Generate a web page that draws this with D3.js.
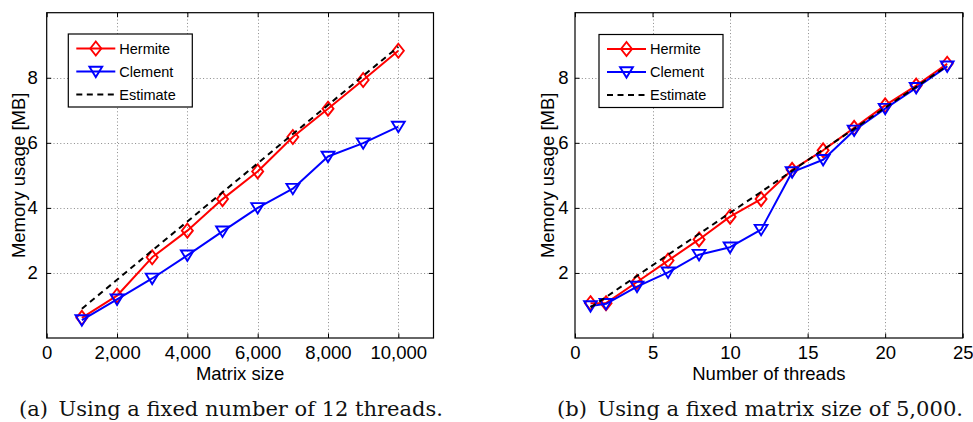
<!DOCTYPE html>
<html>
<head>
<meta charset="utf-8">
<script src="https://cdn.jsdelivr.net/npm/d3@7"></script>
<style>
  html, body { margin: 0; padding: 0; background: #fff; }
  svg { display: block; }
</style>
</head>
<body>
<svg id="chart" width="973" height="422"></svg>
<script>
// ---------- data ----------
const seriesNames = ["Hermite", "Clement", "Estimate"];

const matrixSizes = [1000, 2000, 3000, 4000, 5000, 6000, 7000, 8000, 9000, 10000];
const hermiteBySize = [0.62, 1.30, 2.48, 3.30, 4.27, 5.12, 6.18, 7.05, 7.93, 8.83];
const clementBySize = [0.55, 1.19, 1.83, 2.54, 3.28, 4.00, 4.59, 5.58, 5.99, 6.50];
const estimateBySize = [0.90, 1.79, 2.69, 3.58, 4.48, 5.37, 6.27, 7.16, 8.06, 8.95];

const threadCounts = [1, 2, 4, 6, 8, 10, 12, 14, 16, 18, 20, 22, 24];
const hermiteByThreads = [1.07, 1.07, 1.72, 2.38, 3.03, 3.73, 4.27, 5.17, 5.77, 6.46, 7.15, 7.76, 8.43];
const clementByThreads = [0.98, 1.05, 1.58, 2.02, 2.56, 2.79, 3.33, 5.10, 5.48, 6.38, 7.05, 7.69, 8.35];
const estimateByThreads = [0.94, 1.26, 1.91, 2.56, 3.20, 3.85, 4.49, 5.14, 5.79, 6.43, 7.08, 7.72, 8.37];

const yTicks = [2, 4, 6, 8];
const xTicksSize = [0, 2000, 4000, 6000, 8000, 10000];
const xTicksThreads = [0, 5, 10, 15, 20, 25];

const yLabel = "Memory usage [MB]";
const xLabelSize = "Matrix size";
const xLabelThreads = "Number of threads";
const captionSize = "(a)\u2002Using a fixed number of 12 threads.";
const captionThreads = "(b)\u2002Using a fixed matrix size of 5,000.";

// ---------- drawing ----------
const svg = d3.select("#chart");
svg.append("rect").attr("width", 973).attr("height", 422).attr("fill", "#fff");

const colors = { Hermite: "#ff0000", Clement: "#0000ff", Estimate: "#000000" };
const font = "'Liberation Sans', Arial, Helvetica, sans-serif";

const diamondPath = "M0,-7L5.5,0L0,7L-5.5,0Z";
const triPath = "M-6.4,-4.8L6.4,-4.8L0,5.6Z";

function panel(cfg) {
  const x = d3.scaleLinear().domain(cfg.xDomain).range([cfg.left, cfg.right]);
  const y = d3.scaleLinear().domain([0, 10]).range([cfg.bottom, cfg.top]);
  const g = svg.append("g");

  // grid
  const grid = g.append("g").attr("stroke", "#8a8a8a").attr("stroke-width", 1)
    .attr("stroke-dasharray", "1,2.4");
  grid.selectAll(".gx").data(cfg.xTicks.filter(v => v > cfg.xDomain[0] && v < cfg.xDomain[1]))
    .join("line")
    .attr("x1", d => Math.round(x(d)) + 0.5).attr("x2", d => Math.round(x(d)) + 0.5)
    .attr("y1", cfg.top).attr("y2", cfg.bottom);
  grid.selectAll(".gy").data(yTicks).join("line")
    .attr("y1", d => Math.round(y(d)) + 0.5).attr("y2", d => Math.round(y(d)) + 0.5)
    .attr("x1", cfg.left).attr("x2", cfg.right);

  // axes (bottom/left with labels, top/right mirrored ticks)
  const tl = 4.5;
  const xb = g.append("g").attr("transform", `translate(0,${cfg.bottom})`)
    .call(d3.axisBottom(x).tickValues(cfg.xTicks).tickFormat(cfg.xFormat).tickSizeInner(-tl).tickSizeOuter(0).tickPadding(7.5));
  const xt = g.append("g").attr("transform", `translate(0,${cfg.top})`)
    .call(d3.axisTop(x).tickValues(cfg.xTicks).tickFormat("").tickSizeInner(-tl).tickSizeOuter(0));
  const yl = g.append("g").attr("transform", `translate(${cfg.left},0)`)
    .call(d3.axisLeft(y).tickValues(yTicks).tickFormat(d3.format("d")).tickSizeInner(-tl).tickSizeOuter(0).tickPadding(cfg.yPad));
  const yr = g.append("g").attr("transform", `translate(${cfg.right},0)`)
    .call(d3.axisRight(y).tickValues(yTicks).tickFormat("").tickSizeInner(-tl).tickSizeOuter(0));
  [xb, xt, yl, yr].forEach(a => {
    a.select(".domain").remove();
    a.selectAll("line").attr("stroke", "#000").attr("stroke-width", 1);
    a.selectAll("text").attr("font-family", font).attr("font-size", 18.5).attr("fill", "#000");
  });
  xb.selectAll("text").attr("dy", "0.71em");

  // frame
  g.append("rect").attr("x", cfg.left).attr("y", cfg.top)
    .attr("width", cfg.right - cfg.left).attr("height", cfg.bottom - cfg.top)
    .attr("fill", "none").attr("stroke", "#000").attr("stroke-width", 1.2);

  // series
  const line = d3.line().x(d => x(d[0])).y(d => y(d[1]));

  cfg.series.forEach((vals, i) => {
    const name = seriesNames[i];
    const pts = cfg.xs.map((xv, k) => [xv, vals[k]]);
    const path = g.append("path").datum(pts).attr("d", line)
      .attr("fill", "none").attr("stroke", colors[name]).attr("stroke-width", 2)
      .attr("stroke-linejoin", "round");
    if (name === "Estimate") path.attr("stroke-dasharray", "6,4.5");
    if (name !== "Estimate") {
      g.append("g").selectAll("path").data(pts).join("path")
        .attr("transform", d => `translate(${x(d[0])},${y(d[1])})`)
        .attr("d", name === "Hermite" ? diamondPath : triPath)
        .attr("fill", "none").attr("stroke", colors[name]).attr("stroke-width", 1.9)
        .attr("stroke-linejoin", "miter");
    }
  });

  // legend
  const L = g.append("g").attr("transform", `translate(${cfg.legX},${cfg.legY})`);
  L.append("rect").attr("width", 124).attr("height", 73).attr("fill", "#fff")
    .attr("stroke", "#000").attr("stroke-width", 1.2);
  seriesNames.forEach((name, i) => {
    const ry = 14.5 + i * 23;
    const ln = L.append("line").attr("x1", 8).attr("x2", 47).attr("y1", ry).attr("y2", ry)
      .attr("stroke", colors[name]).attr("stroke-width", 2);
    if (name === "Estimate") ln.attr("stroke-dasharray", "6,4.5");
    else L.append("path").attr("transform", `translate(27.5,${ry})`)
      .attr("d", name === "Hermite" ? diamondPath : triPath)
      .attr("fill", "none").attr("stroke", colors[name]).attr("stroke-width", 1.9);
    L.append("text").attr("x", 51).attr("y", ry).attr("dy", "0.36em")
      .attr("font-family", font).attr("font-size", 14.5).attr("fill", "#000").text(name);
  });

  // axis labels
  g.append("text").attr("x", (cfg.left + cfg.right) / 2).attr("y", 380)
    .attr("text-anchor", "middle").attr("font-family", font).attr("font-size", 18.5).text(cfg.xLabel);
  g.append("text").attr("transform", `translate(${cfg.yLabelX},${(cfg.top + cfg.bottom) / 2}) rotate(-90)`)
    .attr("text-anchor", "middle").attr("dy", "0.36em")
    .attr("font-family", font).attr("font-size", 18.5).text(yLabel);

  // caption
  g.append("text").attr("x", cfg.capX).attr("y", 416).attr("text-anchor", "middle")
    .attr("font-family", "'DejaVu Serif', serif").attr("font-size", 19.5)
    .attr("textLength", cfg.capW).attr("lengthAdjust", "spacingAndGlyphs")
    .attr("fill", "#111").text(cfg.caption);
}

panel({
  id: "a", xDomain: [0, 11000], left: 46.7, right: 433.5, top: 12.7, bottom: 338,
  xs: matrixSizes, series: [hermiteBySize, clementBySize, estimateBySize],
  xTicks: xTicksSize, xFormat: d3.format(","), yPad: 9,
  xLabel: xLabelSize, yLabelX: 18.5, legX: 68.3, legY: 34,
  caption: captionSize, capX: 231, capW: 424
});

panel({
  id: "b", xDomain: [0, 25], left: 575, right: 962.7, top: 12.7, bottom: 338,
  xs: threadCounts, series: [hermiteByThreads, clementByThreads, estimateByThreads],
  xTicks: xTicksThreads, xFormat: d3.format("d"), yPad: 6.5,
  xLabel: xLabelThreads, yLabelX: 547.5, legX: 599, legY: 34.5,
  caption: captionThreads, capX: 760, capW: 406
});
</script>
</body>
</html>
